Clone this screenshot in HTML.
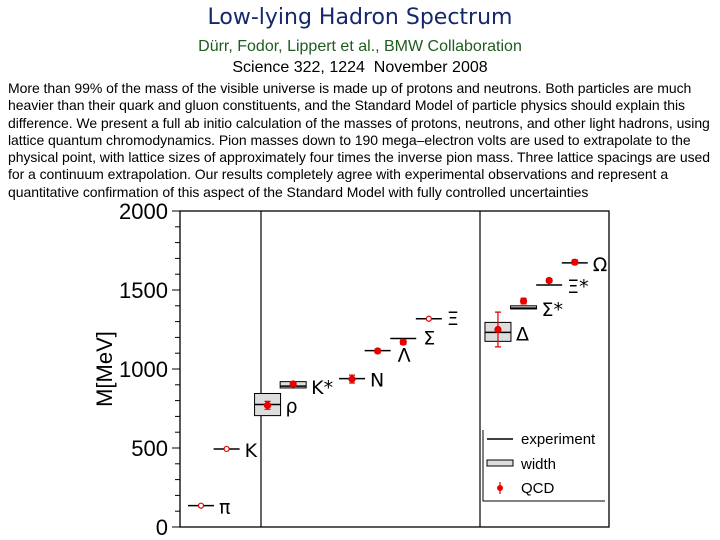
<!DOCTYPE html>
<html><head><meta charset="utf-8"><style>
body{margin:0;width:720px;height:540px;background:#fff;overflow:hidden;font-family:"Liberation Sans",sans-serif;position:relative}
.t{position:absolute;left:0;width:720px;text-align:center;white-space:nowrap}
#para{position:absolute;left:8px;top:80px;font-size:14px;line-height:17.3px;color:#000;white-space:nowrap;letter-spacing:-0.05px}
svg{position:absolute;left:0;top:0}
</style></head><body>
<div class="t" style="top:5px;font-size:22px;color:#15286a;font-family:'DejaVu Sans',sans-serif;">Low-lying Hadron Spectrum</div>
<div class="t" style="top:38px;font-size:16px;color:#1f5c1f">Dürr, Fodor, Lippert et al., BMW Collaboration</div>
<div class="t" style="top:59px;font-size:16px;color:#000">Science 322, 1224&nbsp; November 2008</div>
<div id="para">More than 99% of the mass of the visible universe is made up of protons and neutrons. Both particles are much<br>heavier than their quark and gluon constituents, and the Standard Model of particle physics should explain this<br>difference. We present a full ab initio calculation of the masses of protons, neutrons, and other light hadrons, using<br>lattice quantum chromodynamics. Pion masses down to 190 mega–electron volts are used to extrapolate to the<br>physical point, with lattice sizes of approximately four times the inverse pion mass. Three lattice spacings are used<br>for a continuum extrapolation. Our results completely agree with experimental observations and represent a<br>quantitative confirmation of this aspect of the Standard Model with fully controlled uncertainties</div>
<svg id="chart" width="720" height="540"></svg>
<script>
const names=["π","K","ρ","K*","N","Λ","Σ","Ξ","Δ","Σ*","Ξ*","Ω"];
const slots=[0,1,2.6,3.6,5.9,6.9,7.9,8.9,11.6,12.6,13.6,14.6];
const expMass=[135,494,775,892,939,1116,1193,1318,1232,1385,1532,1672];
const widthLo=[0,0,705,880,0,0,0,0,1175,1380,0,0];
const widthHi=[0,0,845,920,0,0,0,0,1295,1400,0,0];
const qcdMass=[135,494,770,905,936,1114,1170,1318,1250,1430,1560,1676];
const qcdErr=[0,0,25,12,25,13,15,0,110,18,12,15];
const openPt=[1,1,0,0,0,0,0,1,0,0,0,0];
const yTicks=[0,500,1000,1500,2000];
const labDx=[31,31,31,31,31,33,33,31,31,31,31,31];
const labDy=[8,8,8,8,8,11,6,6,8,8,8,8];
const S="http://www.w3.org/2000/svg",svg=document.getElementById('chart');
const y=m=>527-m*0.158, x=s=>188+s*25.6;
function el(t,a,p){const e=document.createElementNS(S,t);for(const k in a)e.setAttribute(k,a[k]);(p||svg).appendChild(e);return e;}
let e;
e=el('rect',{x:180,y:211,width:429,height:316,fill:'none',stroke:'#000','stroke-width':1.3});

[261,480].forEach(dx=>{e=el('line',{x1:dx,y1:211,x2:dx,y2:527,stroke:'#000','stroke-width':1.2});
});
for(let m=0;m<=2000;m+=100){const maj=m%500==0;
e=el('line',{x1:maj?172:175,y1:y(m),x2:180,y2:y(m),stroke:'#000','stroke-width':1});
}
yTicks.forEach(m=>{e=el('text',{x:168,y:y(m)+8,'text-anchor':'end','font-size':22,fill:'#000','font-family':'Liberation Sans'});e.textContent=m;
});
e=el('text',{x:0,y:0,transform:'translate(112,369) rotate(-90)','text-anchor':'middle','font-size':22,'font-family':'Liberation Sans'});e.textContent='M[MeV]';

names.forEach((n,i)=>{const x0=x(slots[i]),cx=x0+13;
 const g=el('g',{});
 if(widthHi[i]>0){e=el('rect',{x:x0,y:y(widthHi[i]),width:26,height:y(widthLo[i])-y(widthHi[i]),fill:'#ddd',stroke:'#000','stroke-width':1},g);
  }
 e=el('line',{x1:x0,y1:y(expMass[i]),x2:x0+26,y2:y(expMass[i]),stroke:'#000','stroke-width':1.5},g);
 
 if(qcdErr[i]>0){e=el('path',{d:`M${cx},${y(qcdMass[i]+qcdErr[i])}V${y(qcdMass[i]-qcdErr[i])}M${cx-3},${y(qcdMass[i]+qcdErr[i])}h6M${cx-3},${y(qcdMass[i]-qcdErr[i])}h6`,stroke:'#d00','stroke-width':1.2,fill:'none'},g);
  }
 e=el('circle',{cx:cx,cy:y(qcdMass[i]),r:openPt[i]?2.5:3,fill:openPt[i]?'#fff':'#e00',stroke:'#d00','stroke-width':1.2},g);
 
 e=el('text',{x:x0+labDx[i],y:y(expMass[i])+labDy[i],'font-size':19,'font-family':'DejaVu Sans'},g);e.textContent=n;
 
});
const lg=el('g',{});
el('path',{d:'M483,430V501H605',stroke:'#000','stroke-width':1,fill:'none'},lg);
el('line',{x1:487,y1:439,x2:513,y2:439,stroke:'#000','stroke-width':1.5},lg);
el('rect',{x:487,y:460,width:26,height:6,fill:'#ddd',stroke:'#000'},lg);
el('path',{d:'M500,482V494',stroke:'#d00','stroke-width':1.2},lg);
el('circle',{cx:500,cy:488,r:3,fill:'#e00'},lg);
[['experiment',444],['width',469],['QCD',493]].forEach(([t,yy])=>{e=el('text',{x:521,y:yy,'font-size':15,'font-family':'Liberation Sans'},lg);e.textContent=t;
});
</script>
</body></html>
